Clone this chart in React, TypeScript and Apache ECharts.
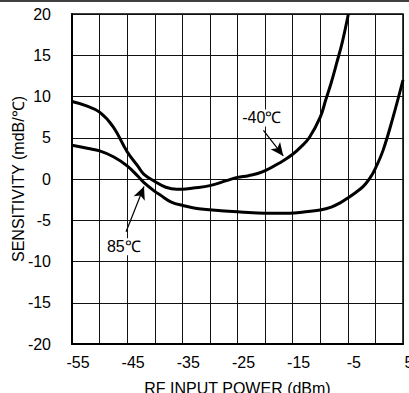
import React, { useEffect, useRef } from "react";
import * as echarts from "echarts";

const xTickLabels = ["-55", "-45", "-35", "-25", "-15", "-5", "5"];
const yTickLabels = ["-20", "-15", "-10", "-5", "0", "5", "10", "15", "20"];

const coldX = [-55, -52.5, -50, -47.5, -45, -43, -42, -40, -38, -36, -35, -33, -30, -27, -25, -23, -20.5, -17, -15, -13.5, -12, -10, -9, -8, -7, -6, -4.9];
const coldY = [9.4, 8.9, 8.1, 6.3, 3.3, 1.5, 0.6, -0.3, -1.0, -1.25, -1.25, -1.1, -0.8, -0.2, 0.2, 0.4, 0.85, 2.1, 3.0, 3.9, 5.0, 7.5, 9.6, 11.7, 14.1, 16.6, 20];

const hotX = [-55, -52, -50, -47.5, -45, -43, -42, -40, -39, -37, -35, -32, -28, -24.5, -20, -15.5, -13, -10, -8, -6.4, -5, -3.5, -2.2, -1, 0, 1.4, 3.2, 5];
const hotY = [4.1, 3.7, 3.4, 2.7, 1.6, 0.3, -0.4, -1.5, -1.95, -2.8, -3.2, -3.6, -3.85, -4.0, -4.15, -4.15, -4.0, -3.75, -3.4, -2.9, -2.3, -1.6, -0.9, 0.1, 1.3, 3.5, 7.5, 12];

const coldLabel = "-40℃";
const hotLabel = "85℃";
const coldLabelAt = [-20.6, 7.4];
const hotLabelAt = [-45.6, -8.2];
const coldArrow = [[-20.3, 5.9], [-16.7, 2.8]];
const hotArrow = [[-45.2, -6.4], [-41.95, -0.9]];

const FONT = "'Liberation Sans', Arial, sans-serif";
const FS = 16;

export default function App() {
  const ref = useRef<HTMLDivElement>(null);
  useEffect(() => {
    if (!ref.current) return;
    const chart = echarts.init(ref.current, null, { renderer: "svg" });
    const labelStyle = {
      show: true,
      position: "inside",
      color: "#000",
      fontSize: FS,
      fontFamily: FONT,
      backgroundColor: "#fff",
      padding: [1, 1, 0, 1],
    };
    const arrowLine = (seg: number[][]) => ({
      silent: true,
      symbol: ["none", "arrow"],
      symbolSize: [9, 13],
      label: { show: false },
      lineStyle: { color: "#000", width: 1.2, type: "solid" },
      data: [[{ coord: seg[0] }, { coord: seg[1] }]],
    });
    chart.setOption({
      animation: false,
      backgroundColor: "#fff",
      textStyle: { fontFamily: FONT },
      grid: {
        left: 72,
        right: 6,
        top: 14,
        bottom: 49,
        outerBoundsMode: "none",
        containLabel: false,
        show: true,
        borderColor: "#000",
        borderWidth: 1.5,
      },
      xAxis: {
        type: "value",
        min: -55,
        max: 5,
        interval: 5,
        name: "RF INPUT POWER (dBm)",
        nameLocation: "middle",
        nameGap: 36,
        nameMoveOverlap: false,
        nameTextStyle: { fontSize: FS, color: "#000", fontFamily: FONT },
        axisLine: { show: true, onZero: false, lineStyle: { color: "#000", width: 2 } },
        axisTick: { show: false },
        axisLabel: {
          fontSize: FS,
          color: "#000",
          fontFamily: FONT,
          margin: 10,
          padding: [0, 0, 0, 12],
          showMinLabel: true,
          showMaxLabel: true,
          formatter: (v: number) => (xTickLabels.includes(String(v)) ? String(v) : ""),
        },
        splitLine: { show: true, lineStyle: { color: "#111", width: 1 } },
      },
      yAxis: {
        type: "value",
        min: -20,
        max: 20,
        interval: 5,
        name: "SENSITIVITY (mdB/℃)",
        nameLocation: "middle",
        nameGap: 46,
        nameMoveOverlap: false,
        nameRotate: 90,
        nameTextStyle: { fontSize: FS, color: "#000", fontFamily: FONT },
        axisLine: { show: true, onZero: false, lineStyle: { color: "#000", width: 2 } },
        axisTick: { show: false },
        axisLabel: {
          fontSize: FS,
          color: "#000",
          fontFamily: FONT,
          margin: 21,
          formatter: (v: number) => (yTickLabels.includes(String(v)) ? String(v) : ""),
        },
        splitLine: { show: true, lineStyle: { color: "#111", width: 1 } },
      },
      series: [
        {
          type: "line",
          data: coldX.map((x, i) => [x, coldY[i]]),
          smooth: 0.4,
          showSymbol: false,
          lineStyle: { color: "#000", width: 3 },
          markLine: arrowLine(coldArrow),
          markPoint: {
            symbolSize: 0,
            silent: true,
            label: labelStyle,
            data: [{ coord: coldLabelAt, value: coldLabel }],
          },
          z: 3,
        },
        {
          type: "line",
          data: hotX.map((x, i) => [x, hotY[i]]),
          smooth: 0.4,
          showSymbol: false,
          lineStyle: { color: "#000", width: 3 },
          markLine: arrowLine(hotArrow),
          markPoint: {
            symbolSize: 0,
            silent: true,
            label: labelStyle,
            data: [{ coord: hotLabelAt, value: hotLabel }],
          },
          z: 3,
        },
      ],
      graphic: [
        {
          type: "line",
          shape: { x1: 0, y1: 1, x2: 409, y2: 1 },
          style: { stroke: "#000", lineWidth: 1.5 },
        },
      ],
    });
    return () => chart.dispose();
  }, []);
  return (
    <div
      ref={ref}
      style={{ position: "fixed", left: 0, top: 0, width: 409, height: 393 }}
    />
  );
}
